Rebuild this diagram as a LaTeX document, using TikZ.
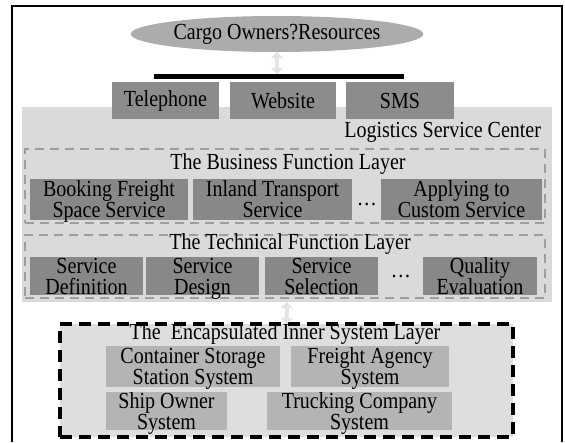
\documentclass[tikz,border=0pt]{standalone}
\usepackage{fontspec}
\setmainfont[FakeStretch=0.87]{Liberation Serif}
\usepackage{tikz}
\definecolor{ovalgray}{RGB}{172,172,172}
\definecolor{chanfill}{RGB}{140,140,140}
\definecolor{centerbg}{RGB}{218,218,218}
\definecolor{funcfill}{RGB}{136,136,136}
\definecolor{dashgray}{RGB}{158,158,158}
\definecolor{innerbg}{RGB}{222,222,222}
\definecolor{sysfill}{RGB}{180,180,180}
\definecolor{arrgray}{RGB}{228,228,228}
\usetikzlibrary{arrows.meta, shapes.geometric, positioning, calc}

\begin{document}
\begin{tikzpicture}[
    x=1pt, y=-1pt,
    every node/.style={inner sep=0pt, outer sep=0pt,
                       font=\fontsize{23}{21}\selectfont},
    chan/.style={rectangle, fill=chanfill, minimum height=37pt},
    func/.style={rectangle, fill=funcfill, align=center, text depth=0pt},
    sys/.style={rectangle, fill=sysfill, align=center, text depth=0pt},
    layer/.style={rectangle, draw=dashgray, line width=2.5pt,
                  dash pattern=on 9pt off 6pt},
    dblarr/.style={line width=4pt, color=arrgray,
                   {Triangle[width=12pt,length=6pt]}-{Triangle[width=12pt,length=6pt]}}
]
    \useasboundingbox (0,0) rectangle (565,442);
    \draw[line width=1.5pt] (12,442) -- (12,6) -- (562,6) -- (562,442);

    % customers and channels
    \node[ellipse, fill=ovalgray, minimum width=269pt, minimum height=36pt]
        (cargo) at (277,34) {Cargo Owners?Resources};
    \node[rectangle, fill=black, minimum width=250pt, minimum height=5pt]
        (bus) at (279,76.5) {};
    \node[rectangle, fill=centerbg, minimum width=530pt, minimum height=195pt]
        (lsc) at (287,204.5) {};
    \node[chan, minimum width=107pt] (tel) at (165.5,100.5) {Telephone};
    \node[chan, minimum width=106pt] (web) at (283,100.5)   {Website};
    \node[chan, minimum width=108pt] (sms) at (400,100.5)   {SMS};
    \draw[dblarr] (cargo.south) -- (cargo.south |- bus.north);
    \node[anchor=east] (lsclabel) at (541,132) {Logistics Service Center};

    % business function layer
    \node[layer, minimum width=520pt, minimum height=74pt] (busl) at (285,186) {};
    \node (bustitle) at (288,164) {The Business Function Layer};
    \node[func, minimum width=158pt, minimum height=41pt] (book) at (109,199.5)
        {Booking Freight\\Space Service};
    \node[func, minimum width=159pt, minimum height=41pt] (inland) at (272.5,199.5)
        {Inland Transport\\Service};
    \node (bdots) at (367,204) {\dots};
    \node[func, minimum width=161pt, minimum height=41pt] (custom) at (461.5,199.5)
        {Applying to\\Custom Service};

    % technical function layer
    \node[layer, minimum width=520pt, minimum height=63pt] (tech) at (285,266.5) {};
    \node (techtitle) at (290,244) {The Technical Function Layer};
    \node[func, minimum width=113pt, minimum height=38pt] (sdef) at (86.5,276)
        {Service\\Definition};
    \node[func, minimum width=113pt, minimum height=38pt] (sdes) at (202.5,276)
        {Service\\Design};
    \node[func, minimum width=113pt, minimum height=38pt] (ssel) at (321.5,276)
        {Service\\Selection};
    \node (tdots) at (401,276) {\dots};
    \node[func, minimum width=114pt, minimum height=38pt] (qual) at (480,276)
        {Quality\\Evaluation};

    % encapsulated inner systems
    \node[rectangle, fill=innerbg, draw=black, line width=3.5pt,
          dash pattern=on 12pt off 7pt,
          minimum width=453pt, minimum height=113pt] (inner) at (286.5,380.5) {};
    \draw[dblarr] (lsc.south) -- (inner.north);
    \node (innertitle) at (285,334) {The\ \ Encapsulated Inner System Layer};
    \node[sys, minimum width=174pt, minimum height=41pt] (cont) at (193,366.5)
        {Container Storage\\Station System};
    \node[sys, minimum width=158pt, minimum height=41pt] (agency) at (370,366.5)
        {Freight Agency\\System};
    \node[sys, minimum width=121pt, minimum height=38pt] (ship) at (166.5,411)
        {Ship Owner\\System};
    \node[sys, minimum width=185pt, minimum height=38pt] (truck) at (359.5,411)
        {Trucking Company\\System};
\end{tikzpicture}
\end{document}
